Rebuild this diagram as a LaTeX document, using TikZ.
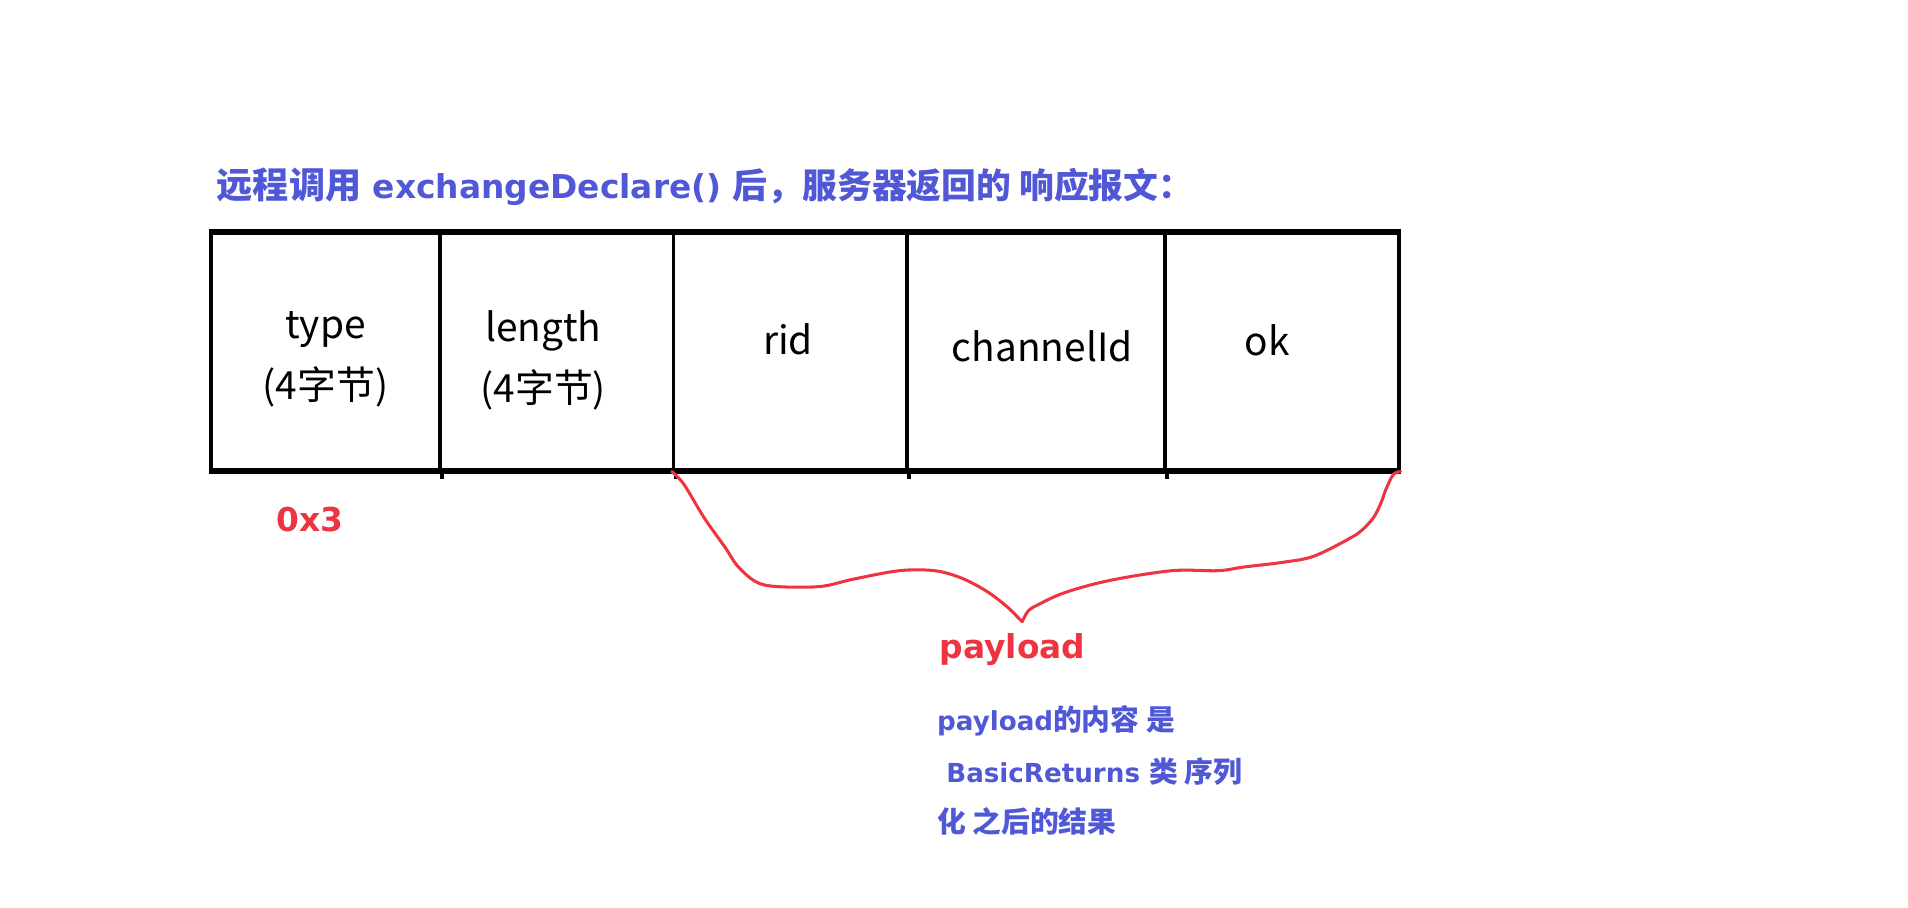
\documentclass[tikz,border=0pt]{standalone}
\usepackage{fontspec}
\setmainfont{DejaVu Sans}
\newfontfamily\cjk[Scale=1.1]{Noto Sans CJK SC}
\definecolor{notecolor}{HTML}{5058D6}
\definecolor{markcolor}{HTML}{EE3440}
\tikzset{
  cell/.style={draw, line width=3pt, minimum height=194pt, inner sep=0pt, anchor=west},
  celltext/.style={align=center, inner sep=0pt, font=\cjk\fontsize{29}{50}\selectfont},
  rule/.style={line width=4.5pt},
  heading/.style={font=\bfseries\fontsize{27}{30}\selectfont, text=notecolor,
                  inner sep=0pt, anchor=base west},
  infoline/.style={font=\bfseries\fontsize{21.5}{26}\selectfont, text=notecolor,
                   inner sep=0pt, anchor=base west},
  redlabel/.style={font=\bfseries\fontsize{27}{30}\selectfont, text=markcolor, inner sep=0pt},
  brace/.style={draw=markcolor, line width=2.5pt, line join=round, line cap=round},
}

\begin{document}
\begin{tikzpicture}[x=1pt, y=-1pt]
    \useasboundingbox (0,0) rectangle (1568,746);
    \node[heading] (title) at (178,163)
      {{\cjk 远程调用} exchangeDeclare() {\cjk\fontsize{26}{30}\selectfont 后，服务器返回的 响应报文：}};
    \node[cell, minimum width=188pt] (type) at (172,289) {};
    \node[cell, minimum width=192pt] (length) at (360,289) {};
    \node[cell, minimum width=192pt] (rid) at (552,289) {};
    \node[cell, minimum width=212pt] (channelId) at (744,289) {};
    \node[cell, minimum width=192pt] (ok) at (956,289) {};
    \node[celltext] (typetext) at ([yshift=-6pt]type.center) {type\\(4字节)};
    \node[celltext] (lengthtext) at ([xshift=-11pt, yshift=-7pt]length.center) {length\\(4字节)};
    \node[celltext] (ridtext) at ([xshift=-2pt, yshift=10pt]rid.center) {rid};
    \node[celltext] (channelIdtext) at ([xshift=5pt, yshift=4pt]channelId.center) {channelId};
    \node[celltext] (oktext) at ([xshift=-12pt, yshift=9pt]ok.center) {ok};
    \draw[rule] (type.north west) -- (ok.north east);
    \draw[rule] (type.south west) -- (ok.south east);
    \foreach \c in {type,length,rid,channelId}
      \draw[line width=3pt] (\c.south east) -- ++(0,6);
    \node[redlabel] (typevalue) at (255,427) {0x3};
    \coordinate (tip) at (840,511);
    \draw[brace] plot[smooth, tension=0.55] coordinates {(rid.south west) (562,398) (579,426)
      (596,450) (606,465) (621,478) (638,482) (674,482) (701,476) (739,469) (768,469)
      (790,475) (811,486) (828,499) (tip)};
    \draw[brace] plot[smooth, tension=0.55] coordinates {(tip) (845,502) (853,497) (875,487)
      (912,477) (963,469) (1001,469) (1022,466) (1055,462) (1080,457) (1110,442)
      (1120,435) (1129,425) (1135,413) (1139,402) (1145,390) (ok.south east)};
    \node[redlabel] (payload) at (832,534) {payload};
    \node[infoline] (info1) at (770,600) {payload{\cjk 的内容 是}};
    \node[infoline] (info2) at (770,643) {\ BasicReturns {\cjk 类 序列}};
    \node[infoline] (info3) at (770,684) {{\cjk 化 之后的结果}};
  \end{tikzpicture}
\end{document}
